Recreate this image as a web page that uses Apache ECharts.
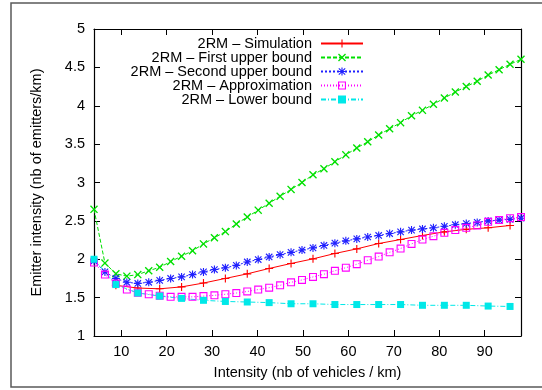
<!DOCTYPE html>
<html>
<head>
<meta charset="utf-8">
<script src="https://cdn.jsdelivr.net/npm/echarts@6/dist/echarts.min.js"></script>
<style>
  html, body { margin: 0; padding: 0; background: #fff; }
  #chart { width: 542px; height: 390px; }
</style>
</head>
<body>
<div id="chart"></div>
<script>
// Vehicle density (vehicles / km)
const density = [4, 6.41, 8.82, 11.23, 13.64, 16.05, 18.46, 20.87, 23.28, 25.69,
  28.10, 30.51, 32.92, 35.33, 37.74, 40.15, 42.56, 44.97, 47.38, 49.79,
  52.21, 54.62, 57.03, 59.44, 61.85, 64.26, 66.67, 69.08, 71.49, 73.90,
  76.31, 78.72, 81.13, 83.54, 85.95, 88.36, 90.77, 93.18, 95.59, 98];

// Emitter intensity (emitters / km); null where a run has no sample
const simulation = [null, null, 1.66, null, 1.625, null, 1.615, null, 1.64, null,
  1.69, null, 1.75, null, 1.81, null, 1.88, null, 1.945, null,
  2.005, null, 2.075, null, 2.135, null, 2.205, null, 2.257, null,
  2.31, null, 2.357, null, 2.39, null, 2.41, null, 2.44, null];

const firstUpper = [2.65, 1.95, 1.81, 1.78, 1.80, 1.85, 1.895, 1.97, 2.04, 2.11,
  2.20, 2.28, 2.36, 2.46, 2.55, 2.64, 2.73, 2.82, 2.91, 3.00,
  3.10, 3.18, 3.27, 3.36, 3.45, 3.53, 3.62, 3.70, 3.78, 3.87,
  3.94, 4.02, 4.10, 4.18, 4.25, 4.32, 4.40, 4.47, 4.54, 4.605];

const secondUpper = [1.98, 1.835, 1.75, 1.70, 1.685, 1.70, 1.725, 1.75, 1.77, 1.80,
  1.835, 1.866, 1.89, 1.92, 1.965, 1.996, 2.03, 2.06, 2.09, 2.12,
  2.148, 2.18, 2.21, 2.24, 2.265, 2.29, 2.31, 2.335, 2.357, 2.38,
  2.395, 2.41, 2.43, 2.45, 2.466, 2.48, 2.50, 2.51, 2.52, 2.535];

const approximation = [1.957, 1.80, 1.685, 1.605, 1.565, 1.544, 1.525, 1.51, 1.51, 1.51,
  1.52, 1.53, 1.544, 1.56, 1.58, 1.605, 1.63, 1.66, 1.70, 1.73,
  1.77, 1.805, 1.85, 1.89, 1.935, 1.987, 2.035, 2.09, 2.14, 2.20,
  2.257, 2.30, 2.345, 2.38, 2.41, 2.44, 2.487, 2.51, 2.535, 2.55];

const lowerBound = [2.0, null, 1.67, null, 1.56, null, 1.52, null, 1.49, null,
  1.465, null, 1.45, null, 1.443, null, 1.435, null, 1.42, null,
  1.42, null, 1.41, null, 1.41, null, 1.41, null, 1.41, null,
  1.40, null, 1.40, null, 1.40, null, 1.39, null, 1.385, null];

const seriesNames = ['2RM \u2013 Simulation', '2RM \u2013 First upper bound',
  '2RM \u2013 Second upper bound', '2RM \u2013 Approximation', '2RM \u2013 Lower bound'];

const xTicks = [10, 20, 30, 40, 50, 60, 70, 80, 90];

// Point glyphs
const PLUS = 'path://M4.3,0h1.4v10h-1.4z M0,4.3h10v1.4h-10z';
const CROSS = 'path://M0,1.2 L1.2,0 L5,3.8 L8.8,0 L10,1.2 L6.2,5 L10,8.8 L8.8,10 L5,6.2 L1.2,10 L0,8.8 L3.8,5 Z';
const STAR = 'path://M4.3,0h1.4v10h-1.4z M0,4.3h10v1.4h-10z M0.5,1.5 L1.5,0.5 L9.5,8.5 L8.5,9.5z M8.5,0.5 L9.5,1.5 L1.5,9.5 L0.5,8.5z';
const BOX = 'path://M0,0 L10,0 L10,10 L0,10 Z M1.4,1.4 L1.4,8.6 L8.6,8.6 L8.6,1.4 Z';

const FONT = 'Liberation Sans';
const FS = 14.5;

// Per-series look: colour, dash, glyph, glyph size
const looks = [
  { color: '#ff0000', dash: 'solid', symbol: PLUS, size: 8 },
  { color: '#00e000', dash: [4, 2], symbol: CROSS, size: 8 },
  { color: '#2020ff', dash: [2, 2], symbol: STAR, size: 8 },
  { color: '#ff00ff', dash: [1, 2], symbol: BOX, size: 8 },
  { color: '#00e8e8', dash: [5, 2, 1, 2], symbol: 'rect', size: 7 }
];
const values = [simulation, firstUpper, secondUpper, approximation, lowerBound];

function pairs(arr) {
  return density.map((x, i) => [x, arr[i]]);
}

const series = values.map((arr, k) => ({
  name: seriesNames[k],
  type: 'line',
  data: pairs(arr),
  connectNulls: true,
  symbol: looks[k].symbol,
  symbolSize: looks[k].size,
  showAllSymbol: true,
  lineStyle: { color: looks[k].color, width: 1, type: looks[k].dash },
  itemStyle: { color: looks[k].color },
  emphasis: { disabled: true }
}));

const chart = echarts.init(document.getElementById('chart'), null, { renderer: 'canvas' });

const axisCommon = {
  axisLine: { show: true, lineStyle: { color: '#000', width: 1.2 } },
  splitLine: { show: false }
};

chart.setOption({
  animation: false,
  backgroundColor: '#fff',
  textStyle: { fontFamily: FONT },
  graphic: [{
    type: 'rect',
    shape: { x: 11, y: 3, width: 600, height: 384 },
    style: { fill: 'none', stroke: '#5a5a5a', lineWidth: 1.5 },
    silent: true,
    z: -1
  }],
  grid: { left: 94, right: 21, top: 29, bottom: 54 },
  legend: {
    orient: 'vertical',
    right: 178,
    top: 36,
    padding: 0,
    align: 'right',
    itemWidth: 42,
    itemHeight: 10,
    itemGap: -1,
    textStyle: { fontSize: FS, fontFamily: FONT, color: '#000', padding: [0, 4, 0, 0] },
    data: seriesNames
  },
  xAxis: [{
    type: 'value',
    min: 4,
    max: 98,
    name: 'Intensity (nb of vehicles / km)',
    nameLocation: 'middle',
    nameGap: 29,
    nameTextStyle: { fontSize: FS, fontFamily: FONT, color: '#000' },
    ...axisCommon,
    axisTick: { show: true, inside: true, length: 6, customValues: xTicks, lineStyle: { color: '#000' } },
    axisLabel: { show: true, customValues: xTicks, margin: 8, fontSize: FS, fontFamily: FONT, color: '#000' }
  }, {
    type: 'value',
    position: 'top',
    min: 4,
    max: 98,
    ...axisCommon,
    axisTick: { show: true, inside: true, length: 6, customValues: xTicks, lineStyle: { color: '#000' } },
    axisLabel: { show: false }
  }],
  yAxis: [{
    type: 'value',
    min: 1,
    max: 5,
    interval: 0.5,
    name: 'Emitter intensity (nb of emitters/km)',
    nameLocation: 'middle',
    nameGap: 50,
    nameTextStyle: { fontSize: FS, fontFamily: FONT, color: '#000' },
    ...axisCommon,
    axisTick: { show: true, inside: true, length: 6, lineStyle: { color: '#000' } },
    axisLabel: { show: true, margin: 9, fontSize: FS, fontFamily: FONT, color: '#000' }
  }, {
    type: 'value',
    position: 'right',
    min: 1,
    max: 5,
    interval: 0.5,
    ...axisCommon,
    axisTick: { show: true, inside: true, length: 6, lineStyle: { color: '#000' } },
    axisLabel: { show: false }
  }],
  series: series
});
</script>
</body>
</html>
